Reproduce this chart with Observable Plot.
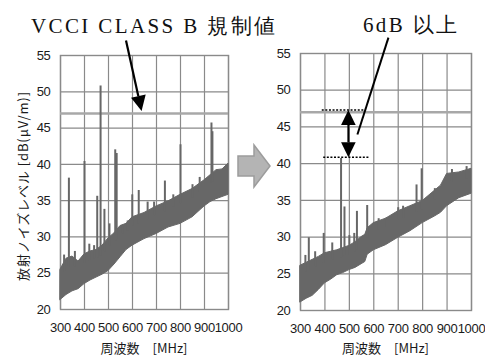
<!DOCTYPE html>
<html><head><meta charset="utf-8">
<script src="https://cdn.jsdelivr.net/npm/d3@7"></script>
<script src="https://cdn.jsdelivr.net/npm/@observablehq/plot@0.6"></script>
<style>
html,body{margin:0;padding:0;background:#fff;}
#wrap{position:relative;width:485px;height:356px;overflow:hidden;background:#fff;}
#wrap svg{position:absolute;top:0;}
</style></head><body><div id="wrap"></div>
<script>
// ---- data ----
const freqTicks = [300, 400, 500, 600, 700, 800, 900, 1000];
const levelTicks = [20, 25, 30, 35, 40, 45, 50, 55];
const limitLevel = 47;

// before (left panel): noise band envelope
const beforeFreq = [300, 325, 350, 375, 400, 425, 450, 475, 500, 525, 550, 575, 600, 650, 700, 750, 800, 850, 900, 925, 950, 975, 1000];
const beforeHi   = [25.5, 27.0, 27.3, 26.6, 27.6, 28.0, 28.2, 28.8, 29.8, 30.5, 31.5, 31.8, 32.7, 33.3, 34.2, 34.9, 35.8, 36.6, 37.8, 38.5, 39.2, 39.3, 40.1];
const beforeLo   = [21.3, 22.0, 22.5, 22.8, 23.5, 24.0, 24.4, 24.8, 25.3, 26.2, 27.2, 28.2, 28.8, 29.7, 30.4, 31.3, 31.8, 32.7, 34.2, 34.8, 35.2, 35.5, 35.8];
// before: spikes
const beforeSpikeFreq = [315, 335, 360, 400, 420, 440, 453, 467, 483, 504, 528, 534, 560, 580, 599, 626, 663, 690, 735, 770, 800, 850, 880, 929, 933];
const beforeSpikePeak = [27.5, 38.1, 28.0, 40.4, 29.0, 28.8, 35.6, 50.8, 33.8, 31.8, 42.0, 41.5, 31.5, 32.2, 35.8, 36.4, 34.8, 34.8, 37.7, 35.8, 42.7, 37.2, 38.2, 45.7, 44.5];

// after (right panel): noise band envelope
const afterFreq = [300, 325, 350, 375, 400, 425, 450, 475, 500, 525, 550, 565, 575, 600, 650, 700, 750, 800, 850, 875, 900, 950, 1000];
const afterHi   = [26.1, 26.5, 26.9, 27.3, 27.8, 28.0, 28.2, 28.5, 28.8, 29.3, 30.0, 30.3, 31.2, 31.9, 32.5, 33.5, 34.2, 34.9, 36.3, 37.0, 38.6, 38.8, 39.3];
const afterLo   = [21.1, 21.6, 22.0, 22.8, 23.7, 24.2, 24.8, 25.1, 25.5, 25.8, 26.3, 26.6, 27.6, 28.2, 28.9, 29.9, 30.8, 31.9, 32.8, 33.3, 34.2, 35.3, 35.9];
// after: spikes
const afterSpikeFreq = [320, 334, 360, 395, 430, 466, 480, 500, 520, 531, 573, 620, 652, 700, 720, 775, 796, 850, 920, 980];
const afterSpikePeak = [27.5, 29.9, 28.0, 30.5, 29.2, 40.7, 34.1, 30.2, 30.5, 33.5, 34.3, 32.5, 32.6, 34.0, 34.2, 37.1, 39.3, 36.6, 39.2, 39.6];

// texts
const limitLabel = "VCCI CLASS B 規制値";
const marginLabel = "6dB 以上";
const xTitle = "周波数\u3000[MHz]";
const yTitle = "放射ノイズレベル [dB(μV/m)]";

// ---- build ----
const wrap = document.getElementById("wrap");
const ink = "#676767";
const gridColor = "#8a8a8a";

function panel(freq, hi, lo, sFreq, sPeak, o) {
  const band = freq.map((f, i) => ({f, hi: hi[i], lo: lo[i]}));
  const baseAt = d3.scaleLinear().domain(freq).range(hi);
  const spikes = sFreq.map((f, i) => ({f, peak: sPeak[i], base: baseAt(f) - 1.2}));
  return Plot.plot({
    width: o.width, height: 356,
    marginLeft: o.ml, marginRight: o.mr, marginTop: o.mt, marginBottom: o.mb,
    style: {overflow: "visible", background: "transparent", fontSize: "13px",
            fontFamily: "'Liberation Sans', Arial, sans-serif", letterSpacing: "-0.3px", color: "#1a1a1a"},
    x: {domain: [300, 1000], ticks: freqTicks, tickSize: 0, tickPadding: 13, label: null, tickFormat: d => String(d)},
    y: {domain: [20, 55], ticks: levelTicks, tickSize: 0, tickPadding: 10, label: null},
    marks: [
      Plot.ruleX(freqTicks, {stroke: gridColor, strokeWidth: 1.2}),
      Plot.ruleY(levelTicks, {stroke: gridColor, strokeWidth: 1.2}),
      Plot.frame({stroke: gridColor, strokeWidth: 1.4}),
      Plot.ruleY([limitLevel], {stroke: "#a8a8a8", strokeWidth: 2.6}),
      Plot.areaY(band, {x: "f", y1: "lo", y2: "hi", fill: ink, stroke: ink, strokeWidth: 1}),
      Plot.ruleX(spikes, {x: "f", y1: "base", y2: "peak", stroke: ink, strokeWidth: 2})
    ]
  });
}

const leftOffset = 0, rightOffset = 240;
const chartL = panel(beforeFreq, beforeHi, beforeLo, beforeSpikeFreq, beforeSpikePeak, {width: 240, ml: 60, mr: 12, mt: 55, mb: 47});
const chartR = panel(afterFreq, afterHi, afterLo, afterSpikeFreq, afterSpikePeak, {width: 245, ml: 60, mr: 14, mt: 53, mb: 46});
chartL.style.left = leftOffset + "px";
chartR.style.left = rightOffset + "px";
wrap.appendChild(chartL);
wrap.appendChild(chartR);

const PL = {x: chartL.scale("x"), y: chartL.scale("y"), off: leftOffset};
const PR = {x: chartR.scale("x"), y: chartR.scale("y"), off: rightOffset};
const pt = (P, f, v) => [P.off + P.x.apply(f), P.y.apply(v)];

const svg = d3.select(wrap).append("svg")
  .attr("width", 485).attr("height", 356)
  .style("left", "0px").style("pointer-events", "none");

function arrowHead(g, from, tip, len = 15, hw = 7.5) {
  const dx = tip[0] - from[0], dy = tip[1] - from[1];
  const n = Math.hypot(dx, dy), ux = dx / n, uy = dy / n;
  const bx = tip[0] - ux * len, by = tip[1] - uy * len;
  g.append("polygon")
    .attr("points", [[tip[0], tip[1]], [bx - uy * hw, by + ux * hw], [bx + uy * hw, by - ux * hw]].map(p => p.join(",")).join(" "))
    .attr("fill", "#000");
  return [bx, by];
}

// left annotation arrow
{
  const a = pt(PL, 575, 57.0), b = pt(PL, 640, 47.3);
  const base = arrowHead(svg, a, b);
  svg.append("line").attr("x1", a[0]).attr("y1", a[1]).attr("x2", base[0]).attr("y2", base[1])
    .attr("stroke", "#000").attr("stroke-width", 2.2);
}
// right annotation: dotted levels, double arrow, leader line
{
  const dots = [[389, 563, 47.25], [395, 580, 40.8]];
  for (const [f1, f2, v] of dots) {
    const p = pt(PR, f1, v), q = pt(PR, f2, v);
    svg.append("line").attr("x1", p[0]).attr("y1", p[1]).attr("x2", q[0]).attr("y2", q[1])
      .attr("stroke", "#000").attr("stroke-width", 1.5).attr("stroke-dasharray", "2,1.6");
  }
  const top = pt(PR, 498, 47.25), bot = pt(PR, 498, 40.8);
  const b1 = arrowHead(svg, bot, top, 15, 7.3);
  const b2 = arrowHead(svg, top, bot, 15, 7.3);
  svg.append("line").attr("x1", b1[0]).attr("y1", b1[1]).attr("x2", b2[0]).attr("y2", b2[1])
    .attr("stroke", "#000").attr("stroke-width", 2);
  const s = pt(PR, 662, 57.1), e = pt(PR, 535, 43.9);
  svg.append("line").attr("x1", s[0]).attr("y1", s[1]).attr("x2", e[0]).attr("y2", e[1])
    .attr("stroke", "#000").attr("stroke-width", 2);
}
// big grey arrow between the panels
{
  const cx = 254, cy = 166;
  const shape = [[-16, -10], [0, -10], [0, -21], [16, 0], [0, 21], [0, 10], [-16, 10]];
  svg.append("polygon").attr("points", shape.map(([x, y]) => (cx + x) + "," + (cy + y)).join(" "))
    .attr("fill", "#b4b4b4").attr("stroke", "#9c9c9c").attr("stroke-width", 1.5);
}
// titles
svg.append("text").attr("x", 31).attr("y", 33).attr("textLength", 244).attr("lengthAdjust", "spacing")
  .attr("font-family", "'Liberation Serif', 'Times New Roman', serif").attr("font-size", 21).attr("fill", "#111")
  .text(limitLabel);
svg.append("text").attr("x", 363).attr("y", 32).attr("textLength", 94).attr("lengthAdjust", "spacing")
  .attr("font-family", "'Liberation Serif', 'Times New Roman', serif").attr("font-size", 21).attr("fill", "#111")
  .text(marginLabel);
// axis titles
for (const P of [PL, PR]) {
  const cx = P.off + (P.x.apply(300) + P.x.apply(1000)) / 2;
  svg.append("text").attr("x", cx).attr("y", 353).attr("text-anchor", "middle")
    .attr("font-family", "'Noto Sans CJK JP', sans-serif").attr("font-size", 13).attr("fill", "#1a1a1a")
    .text(xTitle);
}
svg.append("text").attr("transform", "translate(22,186) rotate(-90)").attr("text-anchor", "middle")
  .attr("dominant-baseline", "central").attr("letter-spacing", "0.9px")
  .attr("font-family", "'Noto Sans CJK JP', sans-serif").attr("font-size", 13).attr("fill", "#1a1a1a")
  .text(yTitle);
</script></body></html>
